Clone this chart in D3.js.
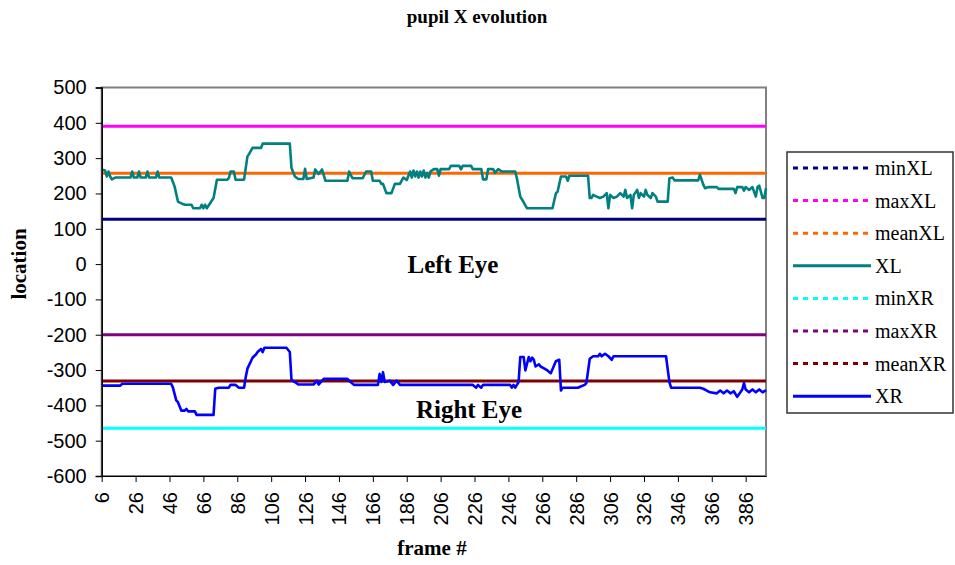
<!DOCTYPE html>
<html>
<head>
<meta charset="utf-8">
<script src="https://cdn.jsdelivr.net/npm/d3@7"></script>
<style>
  body { margin: 0; background: #fff; }
  svg { display: block; }
  .axis text { font-family: "Liberation Sans", Arial, sans-serif; font-size: 20px; fill: #000; }
  .axis path, .axis line { stroke: #000; }
  .lbl { font-family: "Liberation Serif", "Times New Roman", serif; font-weight: bold; fill: #000; }
</style>
</head>
<body>
<svg id="chart" width="955" height="565"></svg>
<script>
/* series data: frame numbers and pupil X location */
var xlFrames = [6, 8, 9, 10, 11, 12, 14, 23, 24, 25, 27, 28, 29, 32, 33, 34, 38, 39, 40, 47, 49, 51, 53, 55, 59, 60, 64, 65, 66, 67, 68, 72, 74, 80, 81, 82, 84, 85, 90, 92, 93, 95, 100, 101, 117, 118, 120, 122, 125, 126, 127, 131, 132, 134, 136, 138, 151, 152, 154, 160, 162, 165, 166, 170, 171, 172, 174, 177, 179, 182, 184, 186, 187, 188, 189, 190, 191, 192, 193, 194, 195, 196, 197, 198, 199, 200, 202, 204, 205, 206, 211, 212, 217, 218, 219, 224, 225, 230, 231, 233, 234, 237, 238, 240, 242, 250, 251, 253, 255, 257, 272, 274, 275, 277, 280, 281, 282, 293, 294, 295, 296, 298, 300, 302, 304, 305, 306, 308, 310, 312, 314, 315, 316, 318, 319, 320, 322, 323, 324, 326, 327, 328, 330, 331, 333, 334, 340, 341, 343, 344, 358, 359, 361, 362, 364, 369, 370, 379, 380, 381, 384, 385, 386, 388, 390, 392, 393, 394, 396, 397, 398];
var xlValues = [268, 265, 248, 262, 248, 240, 245, 245, 262, 245, 245, 262, 245, 245, 262, 245, 245, 262, 245, 245, 220, 177, 172, 168, 168, 158, 158, 168, 158, 168, 158, 187, 239, 239, 243, 262, 262, 239, 239, 305, 312, 329, 329, 341, 341, 272, 248, 241, 241, 270, 241, 245, 268, 255, 268, 236, 236, 262, 243, 243, 262, 262, 236, 236, 227, 227, 201, 201, 227, 227, 245, 238, 250, 262, 245, 265, 248, 262, 245, 262, 248, 265, 245, 258, 245, 262, 269, 269, 250, 269, 269, 278, 278, 268, 278, 278, 269, 269, 240, 240, 269, 269, 258, 269, 262, 262, 243, 191, 175, 158, 158, 200, 205, 248, 248, 236, 250, 250, 187, 187, 196, 191, 187, 191, 201, 158, 196, 187, 191, 201, 191, 210, 187, 196, 158, 196, 210, 187, 201, 191, 210, 196, 187, 201, 191, 177, 177, 243, 245, 237, 237, 253, 225, 215, 218, 218, 213, 213, 201, 218, 218, 208, 218, 210, 218, 191, 218, 222, 187, 187, 215];

var xrFrames = [6, 17, 18, 47, 48, 50, 51, 53, 55, 56, 57, 61, 62, 72, 73, 75, 81, 82, 85, 87, 90, 91, 92, 95, 97, 98, 100, 101, 102, 115, 117, 118, 120, 122, 131, 133, 134, 137, 151, 152, 155, 169, 170, 171, 172, 173, 176, 178, 180, 182, 225, 227, 228, 230, 231, 247, 248, 249, 250, 252, 253, 255, 256, 258, 259, 260, 261, 262, 264, 265, 267, 269, 271, 272, 274, 276, 277, 278, 287, 289, 291, 292, 294, 296, 299, 300, 301, 303, 305, 307, 308, 339, 341, 342, 359, 361, 365, 369, 371, 373, 375, 377, 379, 381, 384, 385, 386, 388, 390, 392, 394, 396, 398];
var xrValues = [-344, -344, -339, -339, -349, -386, -391, -415, -415, -410, -417, -417, -427, -427, -353, -350, -350, -342, -342, -350, -350, -320, -296, -265, -256, -249, -240, -249, -237, -237, -249, -328, -334, -341, -341, -330, -341, -325, -325, -330, -342, -342, -311, -334, -306, -334, -330, -342, -330, -342, -342, -350, -342, -350, -342, -342, -350, -342, -350, -334, -263, -263, -301, -263, -275, -265, -271, -290, -284, -290, -295, -301, -309, -298, -275, -271, -358, -350, -350, -346, -342, -337, -268, -261, -261, -254, -261, -254, -261, -271, -261, -261, -334, -350, -350, -353, -363, -366, -358, -366, -358, -366, -360, -376, -355, -337, -355, -363, -355, -363, -355, -363, -357];

/* constant reference levels */
var refNames = ["minXL", "maxXL", "meanXL", "minXR", "maxXR", "meanXR"];
var refValues = [127, 390, 257, -465, -200, -331];

var legendNames = ["minXL", "maxXL", "meanXL", "XL", "minXR", "maxXR", "meanXR", "XR"];
var legendColors = ["#000080", "#FF00FF", "#FF6600", "#008080", "#00FFFF", "#800080", "#800000", "#0000FF"];
var yTicks = [500, 400, 300, 200, 100, 0, -100, -200, -300, -400, -500, -600];
var xTicks = [6, 26, 46, 66, 86, 106, 126, 146, 166, 186, 206, 226, 246, 266, 286, 306, 326, 346, 366, 386];

var color = d3.scaleOrdinal().domain(legendNames).range(legendColors);

var svg = d3.select("#chart");

/* plot area in pixels */
var plot = {left: 101.7, right: 766, top: 87.5, bottom: 476};

var x = d3.scaleLinear().domain([6, 398]).range([plot.left, plot.right]);
var y = d3.scaleLinear().domain([-600, 500]).range([plot.bottom, plot.top]);

/* plot area frame */
svg.append("rect")
    .attr("x", plot.left)
    .attr("y", plot.top)
    .attr("width", plot.right - plot.left)
    .attr("height", plot.bottom - plot.top)
    .attr("fill", "#fff")
    .attr("stroke", "#808080")
    .attr("stroke-width", 2);

/* horizontal reference lines */
var domainX = x.domain();
svg.append("g").selectAll("line")
  .data(refNames)
  .enter().append("line")
    .attr("x1", x(domainX[0]))
    .attr("x2", x(domainX[1]))
    .attr("y1", function(d, i) { return y(refValues[i]); })
    .attr("y2", function(d, i) { return y(refValues[i]); })
    .attr("stroke", function(d) { return color(d); })
    .attr("stroke-width", 3);

var line = d3.line()
    .x(function(d) { return x(d[0]); })
    .y(function(d) { return y(d[1]); });

svg.append("path")
    .datum(d3.zip(xlFrames, xlValues))
    .attr("fill", "none")
    .attr("stroke", color("XL"))
    .attr("stroke-width", 2.6)
    .attr("stroke-linejoin", "round")
    .attr("d", line);

svg.append("path")
    .datum(d3.zip(xrFrames, xrValues))
    .attr("fill", "none")
    .attr("stroke", color("XR"))
    .attr("stroke-width", 2.6)
    .attr("stroke-linejoin", "round")
    .attr("d", line);

/* axes - plain hyphen for negatives, like the original */
svg.append("g")
    .attr("class", "axis")
    .attr("transform", "translate(" + plot.left + ",0)")
    .call(d3.axisLeft(y).tickValues(yTicks).tickFormat(function(d) { return String(d); }).tickSize(6).tickPadding(9))
    .call(function(g) { g.selectAll("path").attr("stroke-width", 1.5); });

svg.append("g")
    .attr("class", "axis")
    .attr("transform", "translate(0," + plot.bottom + ")")
    .call(d3.axisBottom(x).tickValues(xTicks).tickFormat(function(d) { return String(d); }).tickSize(6).tickSizeOuter(0))
    .selectAll("text")
      .attr("transform", "rotate(-90)")
      .attr("text-anchor", "end")
      .attr("x", -16)
      .attr("y", 0)
      .attr("dy", "0.35em");

/* titles */
svg.append("text")
    .attr("class", "lbl")
    .attr("x", 477)
    .attr("y", 23)
    .attr("text-anchor", "middle")
    .style("font-size", "19px")
    .text("pupil X evolution");

svg.append("text")
    .attr("class", "lbl")
    .attr("transform", "translate(26,264) rotate(-90)")
    .attr("text-anchor", "middle")
    .style("font-size", "21px")
    .text("location");

svg.append("text")
    .attr("class", "lbl")
    .attr("x", 432)
    .attr("y", 555)
    .attr("text-anchor", "middle")
    .style("font-size", "21px")
    .text("frame #");

svg.append("text")
    .attr("class", "lbl")
    .attr("x", 453)
    .attr("y", 273)
    .attr("text-anchor", "middle")
    .style("font-size", "25px")
    .text("Left Eye");

svg.append("text")
    .attr("class", "lbl")
    .attr("x", 469)
    .attr("y", 418)
    .attr("text-anchor", "middle")
    .style("font-size", "25px")
    .text("Right Eye");

/* legend */
var legend = svg.append("g");
legend.append("rect")
    .attr("x", 787)
    .attr("y", 152)
    .attr("width", 166)
    .attr("height", 261)
    .attr("fill", "#fff")
    .attr("stroke", "#333")
    .attr("stroke-width", 1.5);

var item = legend.selectAll(".item")
  .data(legendNames)
  .enter().append("g")
    .attr("class", "item")
    .attr("transform", function(d, i) { return "translate(0," + (168 + i * 32.6) + ")"; });

item.append("line")
    .attr("x1", 793)
    .attr("x2", 871)
    .attr("stroke", function(d) { return color(d); })
    .attr("stroke-width", 3)
    .attr("stroke-dasharray", function(d) { return (d === "XL" || d === "XR") ? null : "5,5"; });

item.append("text")
    .attr("x", 875)
    .attr("dy", "0.35em")
    .style("font-family", "'Liberation Serif', 'Times New Roman', serif")
    .style("font-size", "20px")
    .text(function(d) { return d; });
</script>
</body>
</html>
